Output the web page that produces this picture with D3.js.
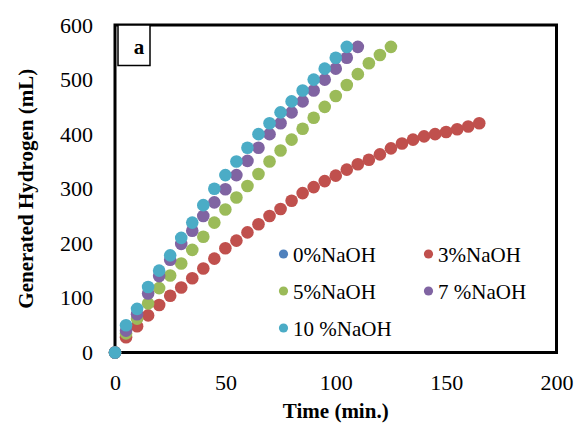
<!DOCTYPE html>
<html>
<head>
<meta charset="utf-8">
<script src="https://cdn.jsdelivr.net/npm/d3@7"></script>
<style>
  html, body { margin: 0; padding: 0; background: #fff; }
  svg text { font-family: "Liberation Serif", "Times New Roman", serif; fill: #000; }
</style>
</head>
<body>
<svg id="chart" width="577" height="423"></svg>
<script>
// ---- data ----
const xTicks = [0, 50, 100, 150, 200];
const yTicks = [0, 100, 200, 300, 400, 500, 600];

const seriesNames = ["0%NaOH", "3%NaOH", "5%NaOH", "7 %NaOH", "10 %NaOH"];
const seriesColors = ["#4F81BD", "#C0504D", "#9BBB59", "#8064A2", "#4BACC6"];

const time0 = [0];
const naoh0 = [0];

const time3 = [0,5,10,15,20,25,30,35,40,45,50,55,60,65,70,75,80,85,90,95,100,105,110,115,120,125,130,135,140,145,150,155,160,165];
const naoh3 = [0,28,48,68,87,104,119,136,154,172,191,205,220,235,250,263,278,292,303,314,324,335,345,353,363,374,383,390,396,400,404,409,414,420];

const time5 = [0,5,10,15,20,25,30,35,40,45,50,55,60,65,70,75,80,85,90,95,100,105,110,115,120,125];
const naoh5 = [0,35,62,90,118,141,163,188,212,238,262,284,305,327,350,370,390,410,430,450,470,490,510,530,545,560];

const time7 = [0,5,10,15,20,25,30,35,40,45,50,55,60,65,70,75,80,85,90,95,100,105,110];
const naoh7 = [0,40,70,108,140,170,199,223,250,275,299,325,351,375,400,420,440,460,480,500,520,540,560];

const time10 = [0,5,10,15,20,25,30,35,40,45,50,55,60,65,70,75,80,85,90,95,100,105];
const naoh10 = [0,50,80,120,150,178,210,238,270,300,325,350,375,400,420,440,460,480,500,520,540,560];

const seriesTimes = [time0, time3, time5, time7, time10];
const seriesValues = [naoh0, naoh3, naoh5, naoh7, naoh10];

// ---- layout ----
const svg = d3.select("#chart");
const pLeft = 115, pRight = 556.5, pTop = 25, pBottom = 352.5;
const x = d3.scaleLinear().domain([0, 200]).range([pLeft, pRight]);
const y = d3.scaleLinear().domain([0, 600]).range([pBottom, pTop]);
const FONT = '"Liberation Serif", "Times New Roman", serif';

// plot frame
svg.append("rect")
  .attr("x", pLeft).attr("y", pTop)
  .attr("width", pRight - pLeft).attr("height", pBottom - pTop)
  .attr("fill", "none").attr("stroke", "#000").attr("stroke-width", 3);

// axes (labels only, no tick marks)
const xAxis = svg.append("g").attr("transform", `translate(0,${pBottom})`)
  .call(d3.axisBottom(x).tickValues(xTicks).tickSize(0).tickPadding(22).tickFormat(d3.format("d")));
xAxis.select(".domain").remove();
xAxis.selectAll("text").attr("font-size", 22).style("font-family", FONT).attr("fill", "#000");

const yAxis = svg.append("g").attr("transform", `translate(${pLeft},0)`)
  .call(d3.axisLeft(y).tickValues(yTicks).tickSize(0).tickPadding(22).tickFormat(d3.format("d")));
yAxis.select(".domain").remove();
yAxis.selectAll("text").attr("font-size", 22).style("font-family", FONT).attr("fill", "#000");

// axis titles
svg.append("text")
  .attr("x", (pLeft + pRight) / 2).attr("y", 418)
  .attr("text-anchor", "middle").attr("font-size", 21).attr("font-weight", "bold")
  .text("Time (min.)");
svg.append("text")
  .attr("transform", `translate(33,${(pTop + pBottom) / 2}) rotate(-90)`)
  .attr("text-anchor", "middle").attr("font-size", 21).attr("font-weight", "bold")
  .text("Generated Hydrogen (mL)");

// "a" label box
svg.append("rect")
  .attr("x", 118).attr("y", 25).attr("width", 32).attr("height", 40.5)
  .attr("fill", "#fff").attr("stroke", "#000").attr("stroke-width", 1.5);
svg.append("text")
  .attr("x", 139).attr("y", 54).attr("text-anchor", "middle")
  .attr("font-size", 21).attr("font-weight", "bold").text("a");

// markers
seriesNames.forEach((name, i) => {
  const pts = seriesTimes[i].map((t, j) => [t, seriesValues[i][j]]);
  svg.append("g").selectAll("circle").data(pts).join("circle")
    .attr("cx", d => x(d[0])).attr("cy", d => y(d[1]))
    .attr("r", 6.3).attr("fill", seriesColors[i]);
});

// legend
const legendPos = [[283.5, 254], [428.5, 254], [283.5, 291], [428.5, 291], [283.5, 328]];
seriesNames.forEach((name, i) => {
  const g = svg.append("g").attr("transform", `translate(${legendPos[i][0]},${legendPos[i][1]})`);
  g.append("circle").attr("r", 4.6).attr("fill", seriesColors[i]);
  g.append("text").attr("x", 9.5).attr("y", 7.5).attr("font-size", 21).text(name);
});
</script>
</body>
</html>
